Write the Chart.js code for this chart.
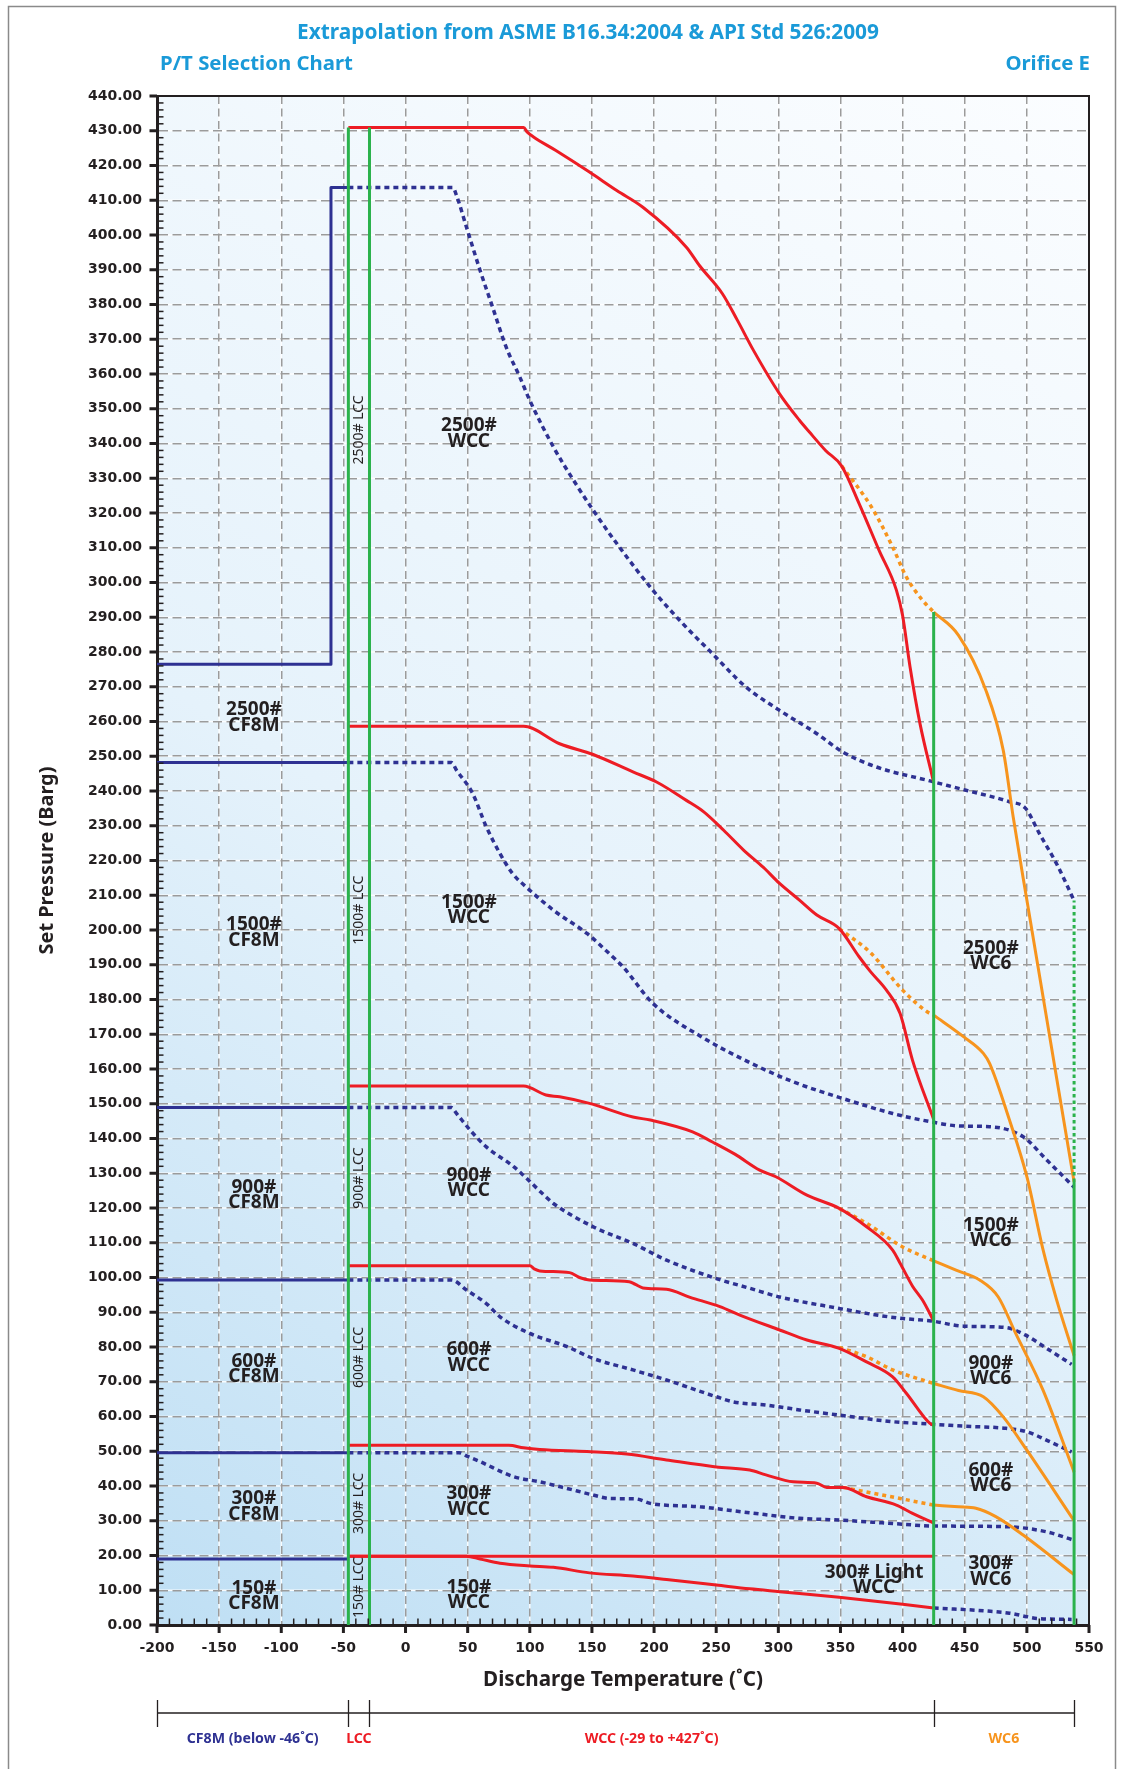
<!DOCTYPE html>
<html><head><meta charset="utf-8">
<script src="https://cdn.jsdelivr.net/npm/chart.js@4.4.1/dist/chart.umd.min.js"></script>
<style>html,body{margin:0;padding:0;background:#fff}#wrap{width:1122px;height:1769px}</style>
</head><body><div id="wrap"><canvas id="c" width="1122" height="1769"></canvas></div>
<script>
// ---------- DATA (temperature °C, set pressure barg) ----------
const xTickMin = -200, xTickMax = 550, xStep = 50;
const yTickMin = 0, yTickMax = 440, yStep = 10;

// CF8M solid (below -46 °C)
const cf8m2500 = [[-200,276.5],[-60,276.5],[-60,413.7],[-46,413.7]];
const cf8m1500 = [[-200,248.2],[-46,248.2]];
const cf8m900  = [[-200,148.9],[-46,148.9]];
const cf8m600  = [[-200,99.3],[-46,99.3]];
const cf8m300  = [[-200,49.6],[-46,49.6]];
const cf8m150  = [[-200,19.0],[-46,19.0]];

// CF8M continued (dotted)
const cf8mDot2500 = [[-46,413.7],[38,413.7],[41,411.4],[49,402.3],[60,389.8],[70,379.3],[81,367.7],[92,359.1],[100,352.4],[119,339],[137,328.4],[151,320.8],[170,311.2],[199,297.8],[223,288.2],[247,279.5],[274,269.9],[301,263.2],[331,256.5],[352,251.2],[379,246.9],[422,242.9],[451,240.2],[486,236.9],[499,235],[510,227.8],[524,219],[538,208.5]];
const cf8mDot1500 = [[-46,248.2],[37,248.2],[41,246],[54,239.3],[65,229.7],[76,222],[86,216.3],[97,212.4],[119,205.7],[146,199],[164,193.2],[175,189.4],[199,178.9],[237,169.5],[275,162.2],[312,156.3],[352,151.5],[392,147.2],[423,144.8],[446,143.6],[470,143.4],[497,140.5],[516,133.8],[538,126]];
const cf8mDot900  = [[-46,148.9],[37,148.9],[41,147.2],[53,142],[65,137.6],[87,131.9],[113,123.2],[119,121.3],[151,114.6],[183,109.8],[210,105],[250,99.7],[277,96.9],[301,94.4],[349,91.1],[379,89.2],[400,88.2],[423,87.5],[449,86],[483,85.6],[499,83.4],[516,79.6],[536,75]];
const cf8mDot600  = [[-46,99.3],[37,99.3],[49,96.4],[65,92.5],[76,88.7],[100,83.9],[130,80.1],[151,76.7],[183,73.4],[210,70.5],[250,65.7],[264,64.2],[290,63.3],[317,61.9],[349,60.4],[392,58.5],[423,57.8],[451,57.2],[483,56.6],[500,55.6],[517,53],[536,49.8]];
const cf8mDot300  = [[-46,49.6],[43,49.6],[50,48.5],[60,47],[87,42.7],[108,41.2],[130,39.3],[151,37.4],[165,36.4],[185,36.3],[197,35],[237,34],[277,32.3],[317,30.7],[349,30.2],[400,29],[423,28.5],[483,28.3],[516,26.8],[536,24.6]];
const cf8mDot150  = [[425,4.9],[465,4.1],[486,3.4],[500,2.4],[508,1.9],[536,1.6]];

// WCC / LCC (red)
const wcc2500 = [[-46,430.9],[95,430.9],[98,429.6],[103,428.2],[121,424.3],[148,418.1],[170,412.8],[191,408],[226,396.5],[237,391],[255,383.1],[267,375.5],[280,366.8],[301,354.3],[317,346.7],[325,343.3],[338,338],[351,333.5],[365,322.7],[381,309.3],[395,297.8],[400,290.5],[406,275.7],[414,259.4],[425,242.5]];
const wcc1500 = [[-46,258.6],[95,258.6],[124,253.6],[151,250.5],[183,245.5],[202,242.6],[226,237.3],[240,234],[256,228.7],[272,223],[288,218],[301,213.4],[317,208.6],[331,204.3],[349,200.4],[365,192.3],[374,188.1],[387,182.7],[398,176],[408,162.5],[425,145.5]];
const wcc900  = [[-46,155.1],[95,155.1],[113,152.5],[124,152],[148,150.1],[183,146.2],[197,145.3],[231,141.9],[247,139],[265,135.5],[285,130.9],[298,129],[323,123.7],[349,119.9],[371,114.6],[392,107.9],[398,104.1],[408,97.5],[416,93.5],[425,87.5]];
const wcc600  = [[-46,103.4],[100,103.4],[104,102.4],[108,101.9],[132,101.4],[140,100],[148,99.3],[180,98.8],[185,98],[191,97],[210,96.6],[229,94.3],[253,91.6],[269,89.2],[301,84.9],[323,82],[349,79.6],[371,75.7],[392,71.4],[403,66.7],[422,58],[425,57.5]];
const wcc300  = [[-46,51.7],[83,51.7],[95,51],[108,50.5],[146,49.9],[178,49.2],[210,47.5],[250,45.5],[277,44.6],[290,43.2],[312,41.2],[331,40.8],[339,39.6],[352,39.6],[371,36.9],[395,34.5],[408,32.1],[425,29.3]];
const wcc300Light = [[-46,19.8],[425,19.8]];
const wcc150  = [[-46,19.8],[49,19.8],[60,19],[76,17.8],[100,17],[119,16.6],[148,15],[183,14.1],[210,13.1],[250,11.5],[277,10.4],[301,9.6],[349,8],[400,6],[425,4.9]];

// WCC extended into WC6 range (orange dotted)
const ext2500 = [[351,333.5],[375,321.7],[392,310.2],[403,301.6],[416,294.9],[425,291.5]];
const ext1500 = [[349,200.4],[374,193.5],[400,182.7],[420,176.4],[425,175.5]];
const ext900  = [[349,119.9],[371,115.6],[400,108.8],[425,104.8]];
const ext600  = [[349,79.9],[371,77.2],[392,73.4],[425,69.5]];
const ext300  = [[352,39.6],[371,38.3],[398,36.4],[425,34.5]];

// WC6 (orange solid)
const wc62500 = [[425,291.5],[445,284.8],[467,269],[481,251.7],[489,232.5],[500,208.6],[538,127.5]];
const wc61500 = [[425,175.5],[449,169.3],[465,164.5],[470,161.6],[486,145.3],[500,129],[513,108],[524,93.5],[538,77.5]];
const wc6900  = [[425,104.8],[443,102.1],[462,99.3],[477,94.4],[491,83.9],[513,67.6],[538,44]];
const wc6600  = [[425,69.5],[445,67.5],[465,65.7],[481,59.9],[500,50.3],[538,30]];
const wc6300  = [[425,34.5],[445,34],[459,33.6],[475,31.2],[497,25.9],[538,14.5]];

// Material boundaries (green)
const lccLow  = [[-46,0],[-46,430.9]];
const lccHigh = [[-29,0],[-29,430.9]];
const wccEnd  = [[425,0],[425,291.5]];
const wc6End  = [[538,0],[538,127.5]];
const wc6EndDot = [[538,127.5],[538,208.5]];

// Region labels
const classLabels = [
  {t:-122, p:261.2, lines:['2500#','CF8M']},
  {t:-122, p:199.2, lines:['1500#','CF8M']},
  {t:-122, p:123.7, lines:['900#','CF8M']},
  {t:-122, p:73.6,  lines:['600#','CF8M']},
  {t:-122, p:34.1,  lines:['300#','CF8M']},
  {t:-122, p:8.3,   lines:['150#','CF8M']},
  {t:51, p:342.9, lines:['2500#','WCC']},
  {t:51, p:205.7, lines:['1500#','WCC']},
  {t:51, p:127.2, lines:['900#','WCC']},
  {t:51, p:76.9,  lines:['600#','WCC']},
  {t:51, p:35.5,  lines:['300#','WCC']},
  {t:51, p:8.6,   lines:['150#','WCC']},
  {t:377, p:12.9, lines:['300# Light','WCC']},
  {t:471, p:192.5, lines:['2500#','WC6']},
  {t:471, p:112.8, lines:['1500#','WC6']},
  {t:471, p:73.1,  lines:['900#','WC6']},
  {t:471, p:42.3,  lines:['600#','WC6']},
  {t:471, p:15.4,  lines:['300#','WC6']}
];
const lccLabels = [
  {t:-37.5, p:343.9, text:'2500# LCC'},
  {t:-37.5, p:205.7, text:'1500# LCC'},
  {t:-37.5, p:128.6, text:'900# LCC'},
  {t:-37.5, p:77,    text:'600# LCC'},
  {t:-37.5, p:35,    text:'300# LCC'},
  {t:-37.5, p:10.8,  text:'150# LCC'}
];
const materialBounds = [-200,-46,-29,425,538];
const materialNames = ['CF8M (below -46˚C)','LCC','WCC (-29 to +427˚C)','WC6'];

// ---------- STYLE ----------
const NAVY='#2e3192', RED='#ed1c24', GREEN='#2bb24c', ORANGE='#f7941d', INK='#231f20', CYAN='#1a9ad8';
const FAM='"Noto Sans", "Open Sans", sans-serif';
function fit(text, weight, family, target){
  const c=document.createElement('canvas').getContext('2d');
  c.font = weight+' 100px '+family; return 100*target/c.measureText(text).width;
}
const titleSize = fit('Extrapolation from ASME B16.34:2004 & API Std 526:2009','bold',FAM,582);
const subSize = fit('P/T Selection Chart','bold',FAM,193);
const xtSize = fit('Discharge Temperature (˚C)','bold',FAM,280);
const ytSize = fit('Set Pressure (Barg)','bold',FAM,188);
const brSize = fit('CF8M (below -46˚C)','bold',FAM,132);

function ds(pts,color,width,dash,order,smooth){
  const d={data:pts.map(p=>({x:p[0],y:p[1]})),borderColor:color,borderWidth:width,borderDash:dash||[],
    pointRadius:0,pointHoverRadius:0,fill:false,tension:0,order:order,borderCapStyle:'butt',borderJoinStyle:'round'};
  if(smooth) d.cubicInterpolationMode='monotone';
  return d;
}
const DOT=[5,4], ODOT=[4,4];
const datasets=[
  ds(lccLow,GREEN,3,null,0), ds(lccHigh,GREEN,3,null,0), ds(wccEnd,GREEN,3,null,0), ds(wc6End,GREEN,3,null,0), ds(wc6EndDot,GREEN,3,[3.5,3],0),
  ds(wcc2500,RED,3,null,1,true), ds(wcc1500,RED,3,null,1,true), ds(wcc900,RED,3,null,1,true), ds(wcc600,RED,3,null,1,true), ds(wcc300,RED,3,null,1,true), ds(wcc300Light,RED,3,null,1), ds(wcc150,RED,3,null,1,true),
  ds(ext2500,ORANGE,3.5,ODOT,2,true), ds(ext1500,ORANGE,3.5,ODOT,2,true), ds(ext900,ORANGE,3.5,ODOT,2,true), ds(ext600,ORANGE,3.5,ODOT,2,true), ds(ext300,ORANGE,3.5,ODOT,2,true),
  ds(wc62500,ORANGE,3,null,2,true), ds(wc61500,ORANGE,3,null,2,true), ds(wc6900,ORANGE,3,null,2,true), ds(wc6600,ORANGE,3,null,2,true), ds(wc6300,ORANGE,3,null,2,true),
  ds(cf8m2500,NAVY,3,null,3), ds(cf8m1500,NAVY,3,null,3), ds(cf8m900,NAVY,3,null,3), ds(cf8m600,NAVY,3,null,3), ds(cf8m300,NAVY,3,null,3), ds(cf8m150,NAVY,3,null,3),
  ds(cf8mDot2500,NAVY,3.5,DOT,3,true), ds(cf8mDot1500,NAVY,3.5,DOT,3,true), ds(cf8mDot900,NAVY,3.5,DOT,3,true), ds(cf8mDot600,NAVY,3.5,DOT,3,true), ds(cf8mDot300,NAVY,3.5,DOT,3,true), ds(cf8mDot150,NAVY,3.5,DOT,3,true)
];

const decor={
  id:'decor',
  beforeDraw(chart){
    const {ctx,chartArea:a,scales:{x,y}}=chart;
    ctx.save();
    ctx.fillStyle='#fff'; ctx.fillRect(0,0,chart.width,chart.height);
    ctx.strokeStyle='#8a8a8a'; ctx.lineWidth=1.5;
    ctx.beginPath(); ctx.moveTo(8.5,1769); ctx.lineTo(8.5,6.5); ctx.lineTo(1115.5,6.5); ctx.lineTo(1115.5,1769); ctx.stroke();
    const g=ctx.createLinearGradient(a.left,a.bottom,a.right,a.top);
    g.addColorStop(0,'#bfdff4'); g.addColorStop(0.45,'#e5f2fb'); g.addColorStop(1,'#fbfdff');
    ctx.fillStyle=g; ctx.fillRect(a.left,a.top,a.right-a.left,a.bottom-a.top);
    ctx.strokeStyle='rgba(255,255,255,0.9)'; ctx.lineWidth=1.5;
    for(let v=xTickMin;v<=xTickMax;v+=xStep){const px=x.getPixelForValue(v);ctx.beginPath();ctx.moveTo(px,a.top);ctx.lineTo(px,a.bottom);ctx.stroke();}
    for(let v=yTickMin;v<=yTickMax;v+=yStep){const py=y.getPixelForValue(v);ctx.beginPath();ctx.moveTo(a.left,py);ctx.lineTo(a.right,py);ctx.stroke();}
    ctx.restore();
  },
  afterDraw(chart){
    const {ctx,chartArea:a,scales:{x,y}}=chart;
    ctx.save();
    // frame
    ctx.strokeStyle=INK; ctx.lineWidth=2;
    ctx.beginPath(); ctx.moveTo(a.left,a.top); ctx.lineTo(a.right,a.top); ctx.lineTo(a.right,a.bottom); ctx.stroke();
    // ticks
    ctx.lineWidth=3;
    for(let v=yTickMin;v<=yTickMax;v+=yStep){const py=y.getPixelForValue(v);ctx.beginPath();ctx.moveTo(a.left-7.5,py);ctx.lineTo(a.left,py);ctx.stroke();}
    for(let v=xTickMin;v<=xTickMax;v+=xStep){const px=x.getPixelForValue(v);ctx.beginPath();ctx.moveTo(px,a.bottom);ctx.lineTo(px,a.bottom+8);ctx.stroke();}
    ctx.lineWidth=1.5;
    for(let v=yTickMin;v<yTickMax;v+=2){if(v%yStep===0)continue;const py=y.getPixelForValue(v);ctx.beginPath();ctx.moveTo(a.left,py);ctx.lineTo(a.left+6.5,py);ctx.stroke();}
    for(let v=xTickMin;v<xTickMax;v+=10){if(v%xStep===0)continue;const px=x.getPixelForValue(v);ctx.beginPath();ctx.moveTo(px,a.bottom);ctx.lineTo(px,a.bottom-6.5);ctx.stroke();}
    // region labels
    ctx.fillStyle=INK; ctx.textAlign='center'; ctx.textBaseline='middle';
    ctx.font='bold 19px '+FAM;
    classLabels.forEach(L=>{
      const px=x.getPixelForValue(L.t), py=y.getPixelForValue(L.p);
      ctx.fillText(L.lines[0],px,py-7.8); ctx.fillText(L.lines[1],px,py+7.8);
    });
    ctx.font='14px '+FAM;
    lccLabels.forEach(L=>{
      const px=x.getPixelForValue(L.t), py=y.getPixelForValue(L.p);
      ctx.save(); ctx.translate(px,py); ctx.rotate(-Math.PI/2); ctx.fillText(L.text,0,0); ctx.restore();
    });
    // titles
    ctx.fillStyle=CYAN;
    ctx.font='bold '+titleSize+'px '+FAM; ctx.fillText('Extrapolation from ASME B16.34:2004 & API Std 526:2009',588,33);
    ctx.font='bold '+subSize+'px '+FAM; ctx.textAlign='left'; ctx.fillText('P/T Selection Chart',160,64);
    ctx.textAlign='right'; ctx.fillText('Orifice E',1090,64);
    // material bracket
    const by=1713;
    ctx.strokeStyle=INK; ctx.lineWidth=1.3;
    ctx.beginPath(); ctx.moveTo(x.getPixelForValue(materialBounds[0]),by); ctx.lineTo(x.getPixelForValue(materialBounds[4]),by); ctx.stroke();
    materialBounds.forEach(b=>{const px=Math.round(x.getPixelForValue(b))+0.5;ctx.beginPath();ctx.moveTo(px,by-13);ctx.lineTo(px,by+14);ctx.stroke();});
    const cols=[NAVY,RED,RED,ORANGE];
    ctx.textAlign='center'; ctx.font='bold '+brSize+'px '+FAM;
    materialNames.forEach((n,i)=>{
      const px=(x.getPixelForValue(materialBounds[i])+x.getPixelForValue(materialBounds[i+1]))/2;
      ctx.fillStyle=cols[i]; ctx.fillText(n,px,1739);
    });
    ctx.restore();
  }
};

new Chart(document.getElementById('c'),{
  type:'line',
  data:{datasets},
  options:{
    responsive:false, animation:false, events:[],
    layout:{padding:{left:0,top:96,right:33,bottom:0}},
    plugins:{legend:{display:false},tooltip:{enabled:false}},
    scales:{
      x:{type:'linear',min:xTickMin,max:xTickMax,
        afterFit(s){s.height=144;},
        ticks:{stepSize:xStep,autoSkip:false,maxRotation:0,padding:15,color:INK,font:{family:'DejaVu Sans',weight:'bold',size:14},callback:v=>String(v)},
        grid:{color:'#9b9b9b',lineWidth:1.5,drawTicks:false},
        border:{display:true,color:INK,width:3,dash:[8,4.5]},
        title:{display:true,text:'Discharge Temperature (˚C)',color:INK,font:{family:FAM,weight:'bold',size:xtSize},padding:{top:0,bottom:89-xtSize*0.6}}
      },
      y:{type:'linear',min:yTickMin,max:yTickMax,
        afterFit(s){s.width=157;},
        ticks:{stepSize:yStep,autoSkip:false,padding:15,color:INK,font:{family:'DejaVu Sans',weight:'bold',size:14},callback:v=>v.toFixed(2)},
        grid:{color:'#9b9b9b',lineWidth:1.5,drawTicks:false},
        border:{display:true,color:INK,width:3,dash:[9,4.5]},
        title:{display:true,text:'Set Pressure (Barg)',color:INK,font:{family:FAM,weight:'bold',size:ytSize},padding:{top:47-ytSize*0.6,bottom:0}}
      }
    }
  },
  plugins:[decor]
});
</script></body></html>
